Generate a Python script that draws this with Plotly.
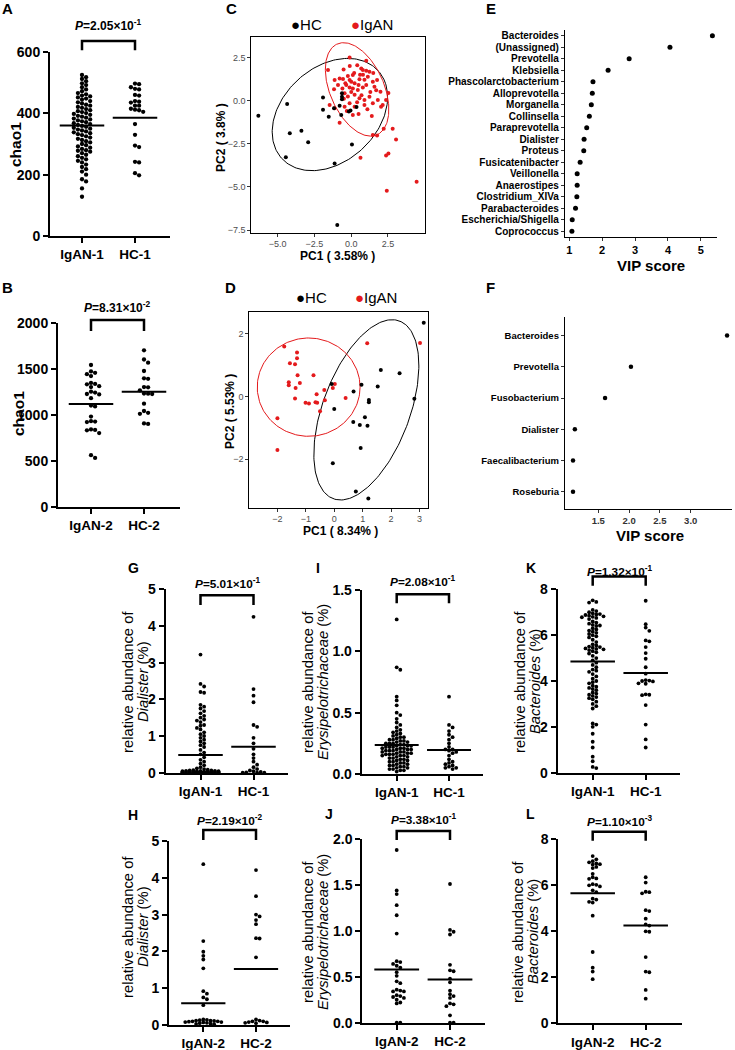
import numpy as np
import plotly.graph_objects as go

W, H = 735, 1050
FONT = "Liberation Sans, Arial, Helvetica, sans-serif"
RED = "#E41A1C"

# ---------------- data ----------------
groups_1 = ["IgAN-1", "HC-1"]
groups_2 = ["IgAN-2", "HC-2"]

# A: chao1 cohort 1
chao1_IgAN1 = [525, 518, 512, 505, 498, 492, 485, 478, 472, 466, 462, 458, 455, 452, 448, 445, 440, 436,
               432, 428, 425, 421, 418, 414, 410, 407, 404, 401, 398, 395, 392, 389, 386, 383, 380, 377,
               374, 371, 368, 365, 362, 359, 356, 353, 350, 347, 344, 341, 338, 335, 332, 329, 325, 321,
               317, 313, 309, 305, 300, 296, 292, 288, 284, 280, 278, 275, 270, 265, 260, 255, 250, 245,
               240, 233, 225, 218, 210, 200, 185, 178, 155, 128]
chao1_HC1 = [497, 495, 485, 480, 478, 460, 458, 440, 438, 435, 425, 425, 415, 412, 410, 405, 365, 330,
             295, 290, 242, 240, 205, 198]
chao1_means_1 = [360, 386]

# B: chao1 cohort 2
chao1_IgAN2 = [1540, 1470, 1455, 1440, 1420, 1345, 1335, 1330, 1310, 1300, 1250, 1240, 1225, 1220, 1180,
               1100, 1090, 980, 930, 925, 920, 840, 835, 830, 800, 560, 530]
chao1_HC2 = [1700, 1600, 1565, 1475, 1395, 1390, 1300, 1298, 1265, 1230, 1228, 1225, 1120, 1040, 1020,
             1010, 905, 900]
chao1_means_2 = [1116, 1250]

# C: PCA cohort 1
C_HC_x = [-6.32, -4.36, -4.18, -3.39, -2.93, -4.45, -1.92, -1.92, -1.53, -1.17, -0.79, -0.68, -0.63,
          -0.63, -0.63, -0.16, -0.05, 0.36, 0.05, -1.13, -0.95]
C_HC_y = [-0.88, -0.20, -1.90, -1.75, -2.42, -3.29, 0.18, -0.53, -0.94, -0.45, -0.30, -0.84, 0.42,
          0.22, 0.07, -0.63, -0.57, -0.38, -2.54, -3.64, -7.21]
C_IgAN_x = [-0.11, -1.58, -0.52, 0.41, 0.68, 0.79, 1.02, 1.24, 1.02, -0.79, -0.56, -0.23, 0.11, -0.11,
            0.00, 0.23, 0.56, 1.13, 1.47, 1.76, -1.13, -1.17, -0.34, -0.11, 0.11, 0.45, 0.79, 1.02,
            1.58, 1.99, 2.53, -0.45, -0.23, 0.23, 0.56, 0.90, 1.24, 1.81, 2.37, -1.47, -1.13, -0.45,
            -0.11, 0.23, 0.90, 1.47, 2.03, 2.14, 0.11, 0.50, 1.40, -0.79, 2.21, 2.82, 3.05, 1.47, 1.76,
            0.63, 2.37, 2.53, 4.45, 2.42, 0.20, 0.60, -0.40, 0.90, 1.30, 0.00, -0.60, 0.70, 1.10, 0.40,
            -0.90, -0.30, 1.70, 0.50, -0.10, 0.80, -0.50, 1.50]
C_IgAN_y = [2.50, 1.77, 1.80, 2.05, 1.86, 1.77, 1.73, 1.67, 2.31, 1.28, 1.25, 1.42, 1.48, 1.19, 1.09,
            1.00, 1.23, 1.38, 1.09, 1.19, 1.19, 0.65, 0.90, 0.76, 0.70, 0.61, 0.76, 0.90, 0.80, 0.51,
            0.43, 0.42, 0.23, 0.33, 0.13, 0.03, 0.22, 0.03, 0.03, -0.26, -0.45, -0.36, -0.16, -0.36,
            -0.26, -0.16, -0.36, -0.26, -0.84, -0.78, -0.90, -1.28, -1.63, -1.63, -2.25, -2.00, -2.02,
            -3.31, -3.18, -3.06, -4.70, -5.22, 1.60, 1.50, 1.00, 1.20, 0.50, 0.50, 0.70, 0.30, -0.50,
            -0.10, 0.90, -0.60, 0.60, 0.90, 2.00, 1.50, 0.10, 1.60]
# confidence ellipses: centre x, centre y, semi-axis a, semi-axis b, angle (deg)
C_HC_ellipse = [-1.45, -0.81, 4.20, 2.89, 29.2]
C_IgAN_ellipse = [0.40, 0.645, 2.97, 1.78, -59.0]

# D: PCA cohort 2
D_HC_x = [3.15, 1.64, 2.30, 0.96, 1.53, -0.09, 0.68, 1.22, 1.22, 2.82, 0.00, 1.08, 0.67, 0.90, 1.17,
          0.93, -0.05, 0.76, 1.20]
D_HC_y = [2.36, 0.85, 0.74, 0.38, 0.32, 0.40, 0.16, -0.11, -0.18, -0.07, -0.40, -0.66, -0.81, -0.91,
          -0.93, -1.64, -2.13, -3.03, -3.26]
D_IgAN_x = [-1.76, -1.31, -1.31, -1.56, -1.38, -1.29, -0.73, -1.60, -1.60, -1.21, -1.36, -1.38, -1.01,
            -0.89, -0.62, -0.66, -0.60, -0.35, -0.33, -0.50, -0.05, 0.02, 0.40, 1.16, 3.02, -2.00, -2.00]
D_IgAN_y = [1.60, 1.41, 1.22, 1.06, 1.03, 0.68, 0.68, 0.46, 0.36, 0.43, 0.27, -0.06, -0.20, -0.22, 0.07,
            -0.18, -0.20, 0.21, -0.12, -0.47, 0.27, 0.40, -0.05, 1.70, 1.71, -0.69, -1.71]
D_HC_ellipse = [1.13, -0.425, 3.07, 1.51, 66.5]
D_IgAN_ellipse = [-0.90, 0.30, 1.81, 1.57, 0.0]

# E: VIP scores cohort 1
E_genera = ["Bacteroides", "(Unassigned)", "Prevotella", "Klebsiella", "Phascolarctobacterium",
            "Alloprevotella", "Morganella", "Collinsella", "Paraprevotella", "Dialister", "Proteus",
            "Fusicatenibacter", "Veillonella", "Anaerostipes", "Clostridium_XIVa", "Parabacteroides",
            "Escherichia/Shigella", "Coprococcus"]
E_vip = [5.35, 4.06, 2.82, 2.18, 1.72, 1.70, 1.67, 1.61, 1.53, 1.45, 1.44, 1.33, 1.24, 1.24, 1.23,
         1.19, 1.09, 1.08]

# F: VIP scores cohort 2
F_genera = ["Bacteroides", "Prevotella", "Fusobacterium", "Dialister", "Faecalibacterium", "Roseburia"]
F_vip = [3.59, 2.03, 1.61, 1.12, 1.09, 1.09]

# G / H: Dialister
G_IgAN1 = [3.22, 2.42, 2.35, 2.2, 2.18, 1.85, 1.8, 1.75, 1.68, 1.62, 1.55, 1.5, 1.45, 1.42, 1.38, 1.3,
           1.28, 1.22, 1.18, 1.1, 1.05, 1.0, 0.95, 0.9, 0.85, 0.8, 0.75, 0.7, 0.62, 0.55, 0.5, 0.42,
           0.35, 0.3, 0.25, 0.2, 0.15, 0.12, 0.1, 0.08, 0.07, 0.06, 0.06, 0.05, 0.05, 0.05, 0.04, 0.04,
           0.04, 0.03, 0.03, 0.03, 0.03, 0.02, 0.02, 0.02, 0.02, 0.02, 0.01, 0.01, 0.01, 0.01, 0.01,
           0.01, 0.0, 0.0, 0.0, 0.0, 0.0, 0.0, 0.0, 0.0, 0.0, 0.0, 0.0, 0.0, 0.0, 0.0, 0.0, 0.0, 0.0,
           0.0, 0.0, 0.0, 0.0, 0.0]
G_HC1 = [4.25, 2.28, 2.1, 1.92, 1.3, 1.25, 0.95, 0.8, 0.65, 0.5, 0.4, 0.3, 0.22, 0.15, 0.1, 0.06, 0.04,
         0.02, 0.01, 0.0, 0.0, 0.0]
G_means = [0.48, 0.71]
H_IgAN2 = [4.37, 2.28, 1.99, 1.88, 1.78, 1.54, 0.92, 0.85, 0.75, 0.7, 0.54, 0.15, 0.14, 0.13, 0.12,
           0.12, 0.11, 0.1, 0.1, 0.09, 0.08, 0.08, 0.07, 0.06, 0.05, 0.04, 0.03, 0.02]
H_HC2 = [4.21, 3.5, 3.0, 2.95, 2.85, 2.74, 2.36, 2.35, 1.84, 0.15, 0.12, 0.1, 0.1, 0.08, 0.07, 0.06, 0.05]
H_means = [0.59, 1.52]

# I / J: Erysipelotrichaceae
I_IgAN1 = [1.26, 0.87, 0.85, 0.63, 0.6, 0.56, 0.5, 0.48, 0.45, 0.42, 0.4, 0.38, 0.36, 0.35, 0.34, 0.33,
           0.32, 0.31, 0.3, 0.3, 0.29, 0.28, 0.28, 0.27, 0.27, 0.26, 0.26, 0.25, 0.25, 0.25, 0.24, 0.24,
           0.23, 0.23, 0.23, 0.22, 0.22, 0.22, 0.21, 0.21, 0.21, 0.2, 0.2, 0.2, 0.19, 0.19, 0.19, 0.18,
           0.18, 0.18, 0.17, 0.17, 0.17, 0.16, 0.16, 0.16, 0.15, 0.15, 0.15, 0.14, 0.14, 0.13, 0.13,
           0.12, 0.12, 0.11, 0.11, 0.1, 0.1, 0.09, 0.09, 0.08, 0.08, 0.07, 0.07, 0.06, 0.06, 0.05, 0.05,
           0.04, 0.04, 0.03, 0.03, 0.02]
I_HC1 = [0.63, 0.4, 0.38, 0.35, 0.32, 0.3, 0.28, 0.25, 0.22, 0.2, 0.2, 0.19, 0.18, 0.17, 0.15, 0.12,
         0.1, 0.09, 0.08, 0.07, 0.06, 0.05, 0.05, 0.04]
I_means = [0.236, 0.196]
J_IgAN2 = [1.88, 1.44, 1.40, 1.28, 1.17, 0.97, 0.67, 0.66, 0.64, 0.62, 0.60, 0.55, 0.51, 0.45, 0.43,
           0.36, 0.35, 0.34, 0.34, 0.30, 0.29, 0.28, 0.27, 0.25, 0.22, 0.21, 0.0, 0.0]
J_HC2 = [1.51, 1.01, 0.99, 0.96, 0.63, 0.57, 0.56, 0.48, 0.44, 0.35, 0.31, 0.29, 0.27, 0.21, 0.20,
         0.18, 0.08, 0.0, 0.0]
J_means = [0.58, 0.47]

# K / L: Bacteroides
K_IgAN1 = [7.52, 7.45, 7.42, 7.1, 7.05, 7.0, 6.95, 6.92, 6.9, 6.88, 6.85, 6.82, 6.8, 6.78, 6.75, 6.7,
           6.6, 6.55, 6.5, 6.45, 6.42, 6.4, 6.3, 6.25, 6.2, 6.15, 6.1, 6.05, 6.0, 5.95, 5.9, 5.8, 5.7,
           5.6, 5.55, 5.5, 5.48, 5.45, 5.42, 5.4, 5.38, 5.35, 5.3, 5.25, 5.2, 5.1, 5.0, 4.9, 4.8, 4.7,
           4.6, 4.5, 4.45, 4.4, 4.3, 4.2, 4.1, 4.0, 3.95, 3.9, 3.8, 3.75, 3.7, 3.65, 3.6, 3.5, 3.45,
           3.4, 3.35, 3.3, 3.25, 3.2, 3.1, 3.0, 2.9, 2.8, 2.15, 2.1, 2.0, 1.7, 1.35, 1.1, 0.7, 0.5,
           0.25, 0.2]
K_HC1 = [7.5, 6.48, 6.33, 6.19, 5.77, 5.73, 5.48, 5.22, 4.97, 4.6, 4.32, 4.04, 4.02, 4.0, 3.98, 3.9,
         3.88, 3.42, 3.4, 3.38, 2.95, 2.1, 1.45, 1.1]
K_means = [4.85, 4.35]
L_IgAN2 = [7.27, 7.13, 7.05, 7.0, 6.95, 6.92, 6.9, 6.8, 6.75, 6.5, 6.35, 6.3, 6.28, 6.05, 6.02, 6.0,
           5.95, 5.78, 5.7, 5.42, 5.38, 5.28, 5.25, 4.68, 3.1, 2.42, 2.25, 1.92]
L_HC2 = [6.35, 6.12, 5.72, 5.7, 5.65, 4.92, 4.88, 4.55, 4.3, 4.25, 4.0, 3.98, 2.88, 2.25, 2.22, 1.45, 1.07]
L_means = [5.65, 4.25]

# ---------------- helpers ----------------
def pxx(x):
    return x / W


def pyy(y):
    return 1 - y / H


def ax_ids(n):
    s = "" if n == 1 else str(n)
    return "x" + s, "y" + s, "xaxis" + s, "yaxis" + s


layout = {}
annotations = []
shapes = []
traces = []


def ann(text, x, y, size, bold=False, color="black", angle=0, xanchor="center", yanchor="middle",
        xref="paper", yref="paper"):
    annotations.append(dict(text=text, x=x, y=y, xref=xref, yref=yref, showarrow=False, textangle=angle,
                            xanchor=xanchor, yanchor=yanchor,
                            font=dict(family=FONT, size=size, color=color, weight=700 if bold else 400)))


def swarm(vals, ppy, ppx, d=4.0, maxw=20.0):
    vals = np.asarray(vals, float)
    order = np.argsort(-vals)
    placed = []
    off = np.zeros(len(vals))
    kmax = int(maxw // d)
    cands = [0.0]
    for k in range(1, kmax + 1):
        cands += [k * d, -k * d]
    for i in order:
        y = vals[i] * ppy
        chosen = None
        best_md, best_c = -1, 0.0
        for c in cands:
            md = min((np.hypot(c - a, y - b) for a, b in placed), default=1e9)
            if md >= d * 0.95:
                chosen = c
                break
            if md > best_md:
                best_md, best_c = md, c
        if chosen is None:
            chosen = best_c
        placed.append((chosen, y))
        off[i] = chosen / ppx
    return off


def ellipse(p, n=200):
    cx, cy, a, b, th = p
    t = np.linspace(0, 2 * np.pi, n)
    th = np.deg2rad(th)
    x = cx + a * np.cos(t) * np.cos(th) - b * np.sin(t) * np.sin(th)
    y = cy + a * np.cos(t) * np.sin(th) + b * np.sin(t) * np.cos(th)
    return x, y


def fmt1(v):
    return f"{v:.1f}"


# ---------------- dot plots (A, B, G-L) ----------------
dot_panels = [
    dict(n=1, vals=[chao1_IgAN1, chao1_HC1], means=chao1_means_1, cats=groups_1, p="2.05×10<sup>-1</sup>",
         px=(50, 170, 82, 135), py=(52, 236), yr=(0, 600), yt=[0, 200, 400, 600], ytt=None,
         br=(606, 636), pt=688, fs=14, cfs=13.5, pfs=12, ms=4.3),
    dict(n=2, vals=[chao1_IgAN2, chao1_HC2], means=chao1_means_2, cats=groups_2, p="8.31×10<sup>-2</sup>",
         px=(58, 180, 91, 144), py=(322.7, 506.7), yr=(0, 2000), yt=[0, 500, 1000, 1500, 2000], ytt=None,
         br=(1910, 2029), pt=2170, fs=14, cfs=13.5, pfs=12, ms=4.3),
    dict(n=7, vals=[G_IgAN1, G_HC1], means=G_means, cats=groups_1, p="5.01×10<sup>-1</sup>",
         px=(165.7, 288, 200.5, 253.5), py=(589.3, 772.7), yr=(0, 5), yt=[0, 1, 2, 3, 4, 5], ytt=None,
         br=(4.57, 4.84), pt=5.17, fs=14, cfs=13.5, pfs=11.8, ms=3.8),
    dict(n=8, vals=[H_IgAN2, H_HC2], means=H_means, cats=groups_2, p="2.19×10<sup>-2</sup>",
         px=(169, 290, 203.3, 256), py=(841, 1025), yr=(0, 5), yt=[0, 1, 2, 3, 4, 5], ytt=None,
         br=(5.03, 5.30), pt=5.57, fs=14, cfs=13.5, pfs=11.8, ms=3.8),
    dict(n=9, vals=[I_IgAN1, I_HC1], means=I_means, cats=groups_1, p="2.08×10<sup>-1</sup>",
         px=(361.7, 483.3, 396.7, 449), py=(590, 774), yr=(0, 1.5), yt=[0, 0.5, 1.0, 1.5], ytt="f1",
         br=(1.392, 1.466), pt=1.568, fs=14, cfs=13.5, pfs=11.8, ms=3.8),
    dict(n=10, vals=[J_IgAN2, J_HC2], means=J_means, cats=groups_2, p="3.38×10<sup>-1</sup>",
         px=(362.3, 485, 396.7, 450), py=(839, 1022.7), yr=(0, 2), yt=[0, 0.5, 1.0, 1.5, 2.0], ytt="f1",
         br=(1.99, 2.088), pt=2.21, fs=14, cfs=13.5, pfs=11.8, ms=3.8),
    dict(n=11, vals=[K_IgAN1, K_HC1], means=K_means, cats=groups_1, p="1.32×10<sup>-1</sup>",
         px=(557.7, 680, 592.7, 645.7), py=(589.3, 772.7), yr=(0, 8), yt=[0, 2, 4, 6, 8], ytt=None,
         br=(8.15, 8.56), pt=8.78, fs=14, cfs=13.5, pfs=11.8, ms=3.8),
    dict(n=12, vals=[L_IgAN2, L_HC2], means=L_means, cats=groups_2, p="1.10×10<sup>-3</sup>",
         px=(558.3, 681.7, 592.7, 645.7), py=(839.3, 1023.3), yr=(0, 8), yt=[0, 2, 4, 6, 8], ytt=None,
         br=(7.94, 8.33), pt=8.77, fs=14, cfs=13.5, pfs=11.8, ms=3.8),
]

for P in dot_panels:
    xid, yid, xa, ya = ax_ids(P["n"])
    left, right, c1, c2 = P["px"]
    top, bot = P["py"]
    ppx = c2 - c1
    xr = [1 - (c1 - left) / ppx, 2 + (right - c2) / ppx]
    yr = list(P["yr"])
    ppy = (bot - top) / (yr[1] - yr[0])
    ytt = [fmt1(v) for v in P["yt"]] if P["ytt"] == "f1" else [str(v) for v in P["yt"]]
    layout[xa] = dict(domain=[pxx(left), pxx(right)], range=xr, anchor=yid, showline=True, linewidth=2,
                      linecolor="black", ticks="outside", ticklen=5, tickwidth=2, tickcolor="black",
                      tickvals=[1, 2], ticktext=P["cats"],
                      tickfont=dict(family=FONT, size=P["cfs"], color="black", weight=700),
                      showgrid=False, zeroline=False, fixedrange=True)
    layout[ya] = dict(domain=[pyy(bot), pyy(top)], range=yr, anchor=xid, showline=True, linewidth=2,
                      linecolor="black", ticks="outside", ticklen=5, tickwidth=2, tickcolor="black",
                      tickvals=P["yt"], ticktext=ytt,
                      tickfont=dict(family=FONT, size=P["fs"], color="black", weight=700),
                      showgrid=False, zeroline=False, fixedrange=True)
    for gi, (vals, m) in enumerate(zip(P["vals"], P["means"])):
        c = gi + 1
        off = swarm(vals, ppy, ppx, d=P["ms"] * 0.95)
        traces.append(go.Scatter(x=c + off, y=vals, mode="markers",
                                 marker=dict(size=P["ms"], color="black", line=dict(width=0)),
                                 xaxis=xid, yaxis=yid, cliponaxis=False, hoverinfo="skip"))
        traces.append(go.Scatter(x=[c - 0.42, c + 0.42], y=[m, m], mode="lines",
                                 line=dict(color="black", width=2), xaxis=xid, yaxis=yid,
                                 hoverinfo="skip"))

    def fx(v, xr=xr):
        return (v - xr[0]) / (xr[1] - xr[0])

    def fy(v, yr=yr):
        return (v - yr[0]) / (yr[1] - yr[0])

    b0, b1 = P["br"]
    shapes.append(dict(type="path", xref=xid + " domain", yref=yid + " domain",
                       path=f"M{fx(1)},{fy(b0)} L{fx(1)},{fy(b1)} L{fx(2)},{fy(b1)} L{fx(2)},{fy(b0)}",
                       line=dict(color="black", width=2.5)))
    # P-value label (placed in paper space via the axis mapping so it is not hidden off-range)
    p_x = left + (1.5 - xr[0]) * ppx
    p_y = bot - (P["pt"] - yr[0]) * ppy
    ann("<i>P</i>=" + P["p"], pxx(p_x), pyy(p_y), P["pfs"], bold=True)

# y titles for chao1 panels
ann("chao1", pxx(16), pyy(144), 15.5, bold=True, angle=-90)
ann("chao1", pxx(18), pyy(414), 15.5, bold=True, angle=-90)

# y titles for relative abundance panels (two lines)
ra_titles = [
    (128, 143, 682, "<i>Dialister</i> (%)"),
    (128, 143, 927, "<i>Dialister</i> (%)"),
    (308, 323, 682, "<i>Erysipelotrichaceae</i> (%)"),
    (308, 323, 932, "<i>Erysipelotrichaceae</i> (%)"),
    (520, 535, 682, "<i>Bacteroides</i> (%)"),
    (518, 533, 932, "<i>Bacteroides</i> (%)"),
]
for x1, x2, yc, t2 in ra_titles:
    ann("relative abundance of", pxx(x1), pyy(yc), 14.8, angle=-90)
    ann(t2, pxx(x2), pyy(yc), 14.8, angle=-90)

# ---------------- PCA panels (C, D) ----------------
pca_panels = [
    dict(n=3, px=(251, 425), py=(37, 233), xr=[-6.82, 5.02], yr=[-7.67, 3.68],
         xt=[-5, -2.5, 0, 2.5], xtt=["−5.0", "−2.5", "0.0", "2.5"],
         yt=[2.5, 0, -2.5, -5, -7.5], ytt=["2.5", "0.0", "−2.5", "−5.0", "−7.5"],
         hc=(C_HC_x, C_HC_y), ig=(C_IgAN_x, C_IgAN_y), ehc=C_HC_ellipse, eig=C_IgAN_ellipse),
    dict(n=4, px=(249, 428), py=(312, 508), xr=[-3.0, 3.3], yr=[-3.56, 2.70],
         xt=[-2, -1, 0, 1, 2, 3], xtt=["−2", "−1", "0", "1", "2", "3"],
         yt=[2, 0, -2], ytt=["2", "0", "−2"],
         hc=(D_HC_x, D_HC_y), ig=(D_IgAN_x, D_IgAN_y), ehc=D_HC_ellipse, eig=D_IgAN_ellipse),
]
for P in pca_panels:
    xid, yid, xa, ya = ax_ids(P["n"])
    common = dict(showline=True, mirror=True, linewidth=1.3, linecolor="black", ticks="outside",
                  ticklen=2.5, tickwidth=1, tickcolor="#333333",
                  tickfont=dict(family=FONT, size=9, color="#4D4D4D"),
                  showgrid=False, zeroline=False, fixedrange=True)
    layout[xa] = dict(domain=[pxx(P["px"][0]), pxx(P["px"][1])], range=P["xr"], anchor=yid,
                      tickvals=P["xt"], ticktext=P["xtt"], **common)
    layout[ya] = dict(domain=[pyy(P["py"][1]), pyy(P["py"][0])], range=P["yr"], anchor=xid,
                      tickvals=P["yt"], ticktext=P["ytt"], **common)
    ex, ey = ellipse(P["ehc"])
    traces.append(go.Scatter(x=ex, y=ey, mode="lines", line=dict(color="black", width=1),
                             xaxis=xid, yaxis=yid, hoverinfo="skip"))
    ex, ey = ellipse(P["eig"])
    traces.append(go.Scatter(x=ex, y=ey, mode="lines", line=dict(color=RED, width=1),
                             xaxis=xid, yaxis=yid, hoverinfo="skip"))
    traces.append(go.Scatter(x=P["ig"][0], y=P["ig"][1], mode="markers",
                             marker=dict(size=4, color=RED, line=dict(width=0)),
                             xaxis=xid, yaxis=yid, hoverinfo="skip"))
    traces.append(go.Scatter(x=P["hc"][0], y=P["hc"][1], mode="markers",
                             marker=dict(size=4, color="black", line=dict(width=0)),
                             xaxis=xid, yaxis=yid, hoverinfo="skip"))

ann("PC1 ( 3.58% )", pxx(337), pyy(256), 12, bold=True)
ann("PC2 ( 3.8% )", pxx(221), pyy(137), 12, bold=True, angle=-90)
ann("PC1 ( 8.34% )", pxx(340), pyy(531), 12, bold=True)
ann("PC2 ( 5.53% )", pxx(230), pyy(412), 12, bold=True, angle=-90)

bul_hc = '<span style="font-size:15px">●</span>HC'
bul_ig = '<span style="font-size:15px;color:%s">●</span>IgAN' % RED
ann(bul_hc, pxx(306), pyy(24), 15)
ann(bul_ig, pxx(372), pyy(24), 15)
ann(bul_hc, pxx(311), pyy(297), 15)
ann(bul_ig, pxx(376), pyy(297), 15)

# ---------------- VIP panels (E, F) ----------------
vip_panels = [
    dict(n=5, px=(565, 717), py=(30, 237), xr=[0.87, 5.49], names=E_genera, vals=E_vip,
         xt=[1, 2, 3, 4, 5], xtt=["1", "2", "3", "4", "5"], xfs=11, xcol="black", yfs=10, ms=5,
         ypad=(0.5, 0.5), title=(651, 265)),
    dict(n=6, px=(565, 732), py=(316.7, 509), xr=[0.96, 3.67], names=F_genera, vals=F_vip,
         xt=[1.5, 2.0, 2.5, 3.0], xtt=["1.5", "2.0", "2.5", "3.0"], xfs=9.5, xcol="#333333", yfs=9.5,
         ms=4.5, ypad=(0.6, 0.55), title=(650, 535)),
]
for P in vip_panels:
    xid, yid, xa, ya = ax_ids(P["n"])
    k = len(P["names"])
    yr = [k - 1 + P["ypad"][1], -P["ypad"][0]]
    layout[xa] = dict(domain=[pxx(P["px"][0]), pxx(P["px"][1])], range=P["xr"], anchor=yid,
                      showline=True, linewidth=1.3, linecolor="black", ticks="outside", ticklen=2.5,
                      tickwidth=1, tickcolor="#333333", tickvals=P["xt"], ticktext=P["xtt"],
                      tickfont=dict(family=FONT, size=P["xfs"], color=P["xcol"], weight=700),
                      showgrid=False, zeroline=False, fixedrange=True)
    layout[ya] = dict(domain=[pyy(P["py"][1]), pyy(P["py"][0])], range=yr, anchor=xid,
                      showline=True, linewidth=1.3, linecolor="black", ticks="outside", ticklen=3,
                      tickwidth=1, tickcolor="#333333", tickvals=list(range(k)), ticktext=P["names"],
                      tickfont=dict(family=FONT, size=P["yfs"], color="black", weight=700),
                      showgrid=False, zeroline=False, fixedrange=True)
    traces.append(go.Scatter(x=P["vals"], y=list(range(k)), mode="markers",
                             marker=dict(size=P["ms"], color="black", line=dict(width=0)),
                             xaxis=xid, yaxis=yid, cliponaxis=False, hoverinfo="skip"))
    ann("VIP score", pxx(P["title"][0]), pyy(P["title"][1]), 15, bold=True)

# ---------------- panel letters ----------------
letters = [("A", 8, 8, 15), ("B", 7, 287, 15), ("C", 231, 8, 15), ("D", 230, 288, 15), ("E", 491, 8, 15),
           ("F", 490, 288, 15), ("G", 133, 568, 14), ("H", 133, 815, 14), ("I", 318, 568, 14),
           ("J", 329, 814, 14), ("K", 531, 568, 14), ("L", 530, 814, 14)]
for t, x, y, s in letters:
    ann(t, pxx(x), pyy(y), s, bold=True)

fig = go.Figure(data=traces)
fig.update_layout(width=W, height=H, margin=dict(l=0, r=0, t=0, b=0, autoexpand=False),
                  paper_bgcolor="white", plot_bgcolor="white", showlegend=False,
                  font=dict(family=FONT, color="black"),
                  annotations=annotations, shapes=shapes, **layout)
fig.write_html("out.html", config={"displayModeBar": False},
               post_script="document.body.style.margin='0px';")
